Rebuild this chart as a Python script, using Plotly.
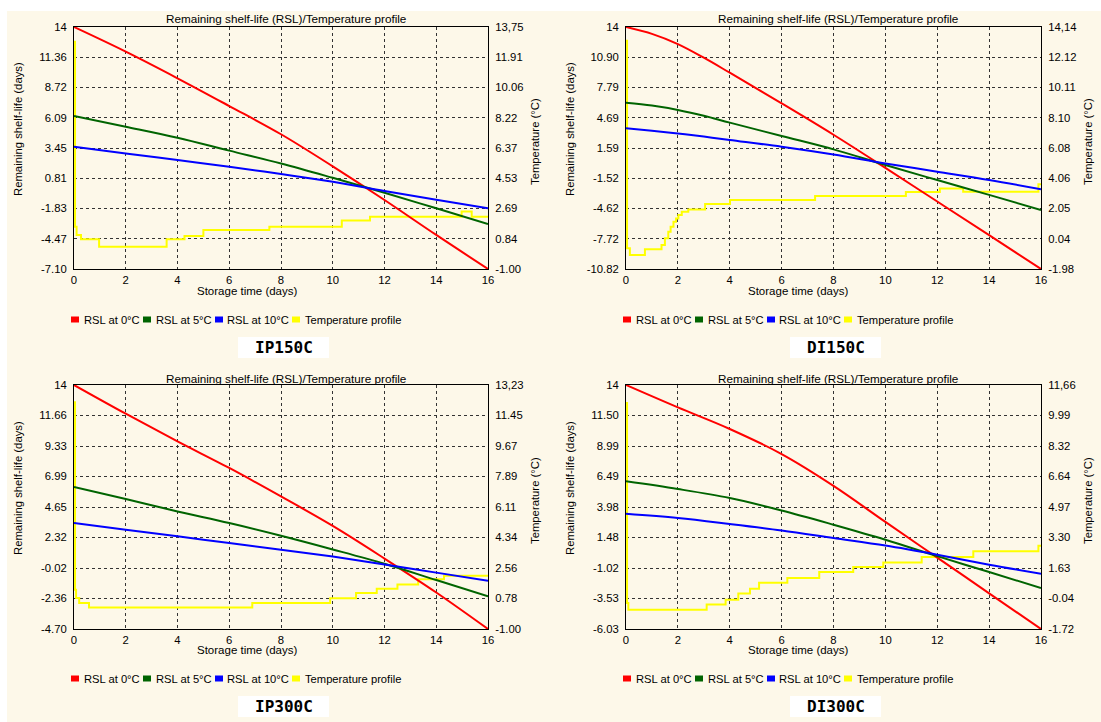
import plotly.graph_objects as go

W, H = 1101, 722
CREAM = "#FDF8E9"
FONT = "Liberation Sans, Arial, sans-serif"

# ---------------- data ----------------
x_ticks = [0, 2, 4, 6, 8, 10, 12, 14, 16]

series_names = ["RSL at 0°C", "RSL at 5°C", "RSL at 10°C", "Temperature profile"]
series_colors = ["#FF0000", "#006400", "#0000FF", "#FFFF00"]

panel_names = ["IP150C", "DI150C", "IP300C", "DI300C"]
chart_title = "Remaining shelf-life (RSL)/Temperature profile"
x_title = "Storage time (days)"
rsl_title = "Remaining shelf-life (days)"
temp_title = "Temperature (°C)"

# IP150C
ip150c_days = [0, 2, 4, 6, 8, 10, 12, 14, 16]
ip150c_rsl0 = [14, 11.85, 9.53, 7.11, 4.65, 1.85, -1.08, -4.13, -7.10]
ip150c_rsl5 = [6.24, 5.31, 4.35, 3.22, 2.10, 0.85, -0.45, -1.81, -3.17]
ip150c_rsl10 = [3.57, 2.98, 2.40, 1.82, 1.18, 0.50, -0.30, -1.07, -1.81]
ip150c_temp_t = [0, 0.04, 0.10, 0.27, 0.97, 3.58, 4.27, 5.00, 7.55, 10.35, 11.44, 14.98, 15.37, 16]
ip150c_temp = [12.85, 1.58, 1.07, 0.81, 0.36, 0.81, 1.01, 1.38, 1.58, 1.95, 2.19, 2.50, 2.19, 2.19]
ip150c_rsl_ticks = ["14", "11.36", "8.72", "6.09", "3.45", "0.81", "-1.83", "-4.47", "-7.10"]
ip150c_temp_ticks = ["13,75", "11.91", "10.06", "8.22", "6.37", "4.53", "2.69", "0.84", "-1.00"]

# DI150C
di150c_days = [0, 1, 2, 3, 4, 6, 8, 10, 12, 14, 16]
di150c_rsl0 = [14, 13.30, 12.25, 10.85, 9.31, 6.17, 2.95, -0.45, -3.90, -7.35, -10.82]
di150c_rsl5 = [6.24, 5.94, 5.49, 4.89, 4.19, 2.82, 1.45, -0.15, -1.70, -3.22, -4.77]
di150c_rsl10 = [3.61, 3.36, 3.08, 2.76, 2.41, 1.72, 0.92, 0.00, -0.84, -1.69, -2.65]
di150c_temp_t = [0, 0.04, 0.15, 0.73, 1.37, 1.50, 1.63, 1.72, 1.83, 1.93, 2.02, 2.15, 2.40,
                 3.05, 4.01, 7.29, 10.79, 12.10, 13.00, 15.90, 16]
di150c_temp = [13.23, -0.60, -1.05, -0.67, -0.38, 0.06, 0.50, 0.84, 1.17, 1.39, 1.62, 1.84, 1.99,
               2.35, 2.61, 2.88, 3.15, 3.39, 3.17, 3.66, 3.66]
di150c_rsl_ticks = ["14", "10.90", "7.79", "4.69", "1.59", "-1.52", "-4.62", "-7.72", "-10.82"]
di150c_temp_ticks = ["14,14", "12.12", "10.11", "8.10", "6.08", "4.06", "2.05", "0.04", "-1.98"]

# IP300C
ip300c_days = [0, 2, 4, 6, 8, 10, 12, 14, 16]
ip300c_rsl0 = [14, 11.80, 9.68, 7.64, 5.46, 3.20, 0.70, -1.90, -4.70]
ip300c_rsl5 = [6.18, 5.26, 4.31, 3.42, 2.45, 1.40, 0.30, -0.95, -2.20]
ip300c_rsl10 = [3.42, 2.91, 2.40, 1.89, 1.38, 0.85, 0.25, -0.38, -1.00]
ip300c_temp_t = [0, 0.04, 0.08, 0.20, 0.58, 6.89, 9.90, 10.90, 11.70, 12.50, 13.30, 14.30, 16]
ip300c_temp = [12.22, 1.29, 0.81, 0.52, 0.26, 0.52, 0.80, 1.10, 1.35, 1.60, 1.90, 2.10, 2.10]
ip300c_rsl_ticks = ["14", "11.66", "9.33", "6.99", "4.65", "2.32", "-0.02", "-2.36", "-4.70"]
ip300c_temp_ticks = ["13,23", "11.45", "9.67", "7.89", "6.11", "4.34", "2.56", "0.78", "-1.00"]

# DI300C
di300c_days = [0, 2, 4, 6, 8, 10, 12, 14, 16]
di300c_rsl0 = [14, 12.16, 10.39, 8.33, 5.72, 2.76, -0.17, -3.10, -6.03]
di300c_rsl5 = [6.09, 5.46, 4.72, 3.70, 2.53, 1.30, -0.05, -1.35, -2.67]
di300c_rsl10 = [3.43, 3.08, 2.59, 2.06, 1.44, 0.82, 0.07, -0.75, -1.49]
di300c_temp_t = [0, 0.04, 0.09, 3.11, 3.84, 4.33, 4.78, 5.13, 6.22, 7.45, 8.76, 9.92, 11.40, 13.39, 15.90, 16]
di300c_temp = [10.67, -0.29, -0.66, -0.38, -0.11, 0.22, 0.49, 0.81, 1.08, 1.41, 1.68, 1.93, 2.23, 2.54, 2.85, 2.85]
di300c_rsl_ticks = ["14", "11.50", "8.99", "6.49", "3.98", "1.48", "-1.02", "-3.53", "-6.03"]
di300c_temp_ticks = ["11,66", "9.99", "8.32", "6.64", "4.97", "3.30", "1.63", "-0.04", "-1.72"]

panels_data = [
    (ip150c_days, ip150c_rsl0, ip150c_rsl5, ip150c_rsl10, ip150c_temp_t, ip150c_temp, ip150c_rsl_ticks, ip150c_temp_ticks),
    (di150c_days, di150c_rsl0, di150c_rsl5, di150c_rsl10, di150c_temp_t, di150c_temp, di150c_rsl_ticks, di150c_temp_ticks),
    (ip300c_days, ip300c_rsl0, ip300c_rsl5, ip300c_rsl10, ip300c_temp_t, ip300c_temp, ip300c_rsl_ticks, ip300c_temp_ticks),
    (di300c_days, di300c_rsl0, di300c_rsl5, di300c_rsl10, di300c_temp_t, di300c_temp, di300c_rsl_ticks, di300c_temp_ticks),
]

# ---------------- layout (pixel geometry) ----------------
# plot area boxes: (left, right, top, bottom) in px
boxes = [(74, 488, 27, 269), (626, 1041, 27, 269), (74, 488, 385, 629), (626, 1041, 385, 629)]


def px(x):
    return x / W


def py(y):
    return 1 - y / H


def num(s):
    return float(s.replace(",", "."))


fig = go.Figure()
layout = dict(
    width=W, height=H, margin=dict(l=0, r=0, t=0, b=0, autoexpand=False),
    paper_bgcolor="white", plot_bgcolor=CREAM, showlegend=False,
    font=dict(family=FONT, size=11, color="black"),
)
shapes = [dict(type="rect", xref="paper", yref="paper", x0=px(7), x1=1, y0=0, y1=py(11),
               fillcolor=CREAM, line=dict(width=0), layer="below")]
annotations = []

tick_font = dict(family=FONT, size=11.3, color="black")
GRID = "#333333"

for i, (data, box) in enumerate(zip(panels_data, boxes)):
    days, rsl0, rsl5, rsl10, tt, temp, rsl_ticks, temp_ticks = data
    L, R, T, B = box
    n = i + 1
    xname = "xaxis" if n == 1 else f"xaxis{n}"
    xref = "x" if n == 1 else f"x{n}"
    ty = 2 * i + 1
    ry = 2 * i + 2
    tyname = "yaxis" if ty == 1 else f"yaxis{ty}"
    tyref = "y" if ty == 1 else f"y{ty}"
    ryname = f"yaxis{ry}"
    ryref = f"y{ry}"

    r_hi, r_lo = num(rsl_ticks[0]), num(rsl_ticks[-1])
    t_hi, t_lo = num(temp_ticks[0]), num(temp_ticks[-1])
    r_vals = [r_hi - k * (r_hi - r_lo) / 8 for k in range(9)]
    t_vals = [t_hi - k * (t_hi - t_lo) / 8 for k in range(9)]

    layout[xname] = dict(
        domain=[px(L), px(R)], anchor=tyref, range=[0, 16], tickvals=x_ticks,
        showgrid=True, gridcolor=GRID, griddash="dot", gridwidth=1,
        showline=True, linecolor="black", linewidth=1, mirror=True,
        zeroline=False, ticks="", tickfont=tick_font, fixedrange=True, automargin=False,
    )
    layout[tyname] = dict(
        domain=[py(B), py(T)], anchor=xref, side="right", range=[t_lo, t_hi],
        tickvals=t_vals, ticktext=temp_ticks, showgrid=False, zeroline=False,
        showline=True, linecolor="black", linewidth=1, ticks="", tickfont=tick_font,
        ticklabelstandoff=4, automargin=False, fixedrange=True,
    )
    layout[ryname] = dict(
        overlaying=tyref, anchor=xref, side="left", range=[r_lo, r_hi],
        tickvals=r_vals, ticktext=rsl_ticks, showgrid=True, gridcolor=GRID,
        griddash="dot", gridwidth=1, zeroline=False, showline=True,
        linecolor="black", linewidth=1, ticks="", tickfont=tick_font,
        ticklabelstandoff=4, automargin=False, fixedrange=True,
    )

    # temperature profile (drawn underneath)
    fig.add_trace(go.Scatter(x=tt, y=temp, xaxis=xref, yaxis=tyref, mode="lines",
                             line=dict(color=series_colors[3], width=2, shape="hv"),
                             name=series_names[3], hoverinfo="skip"))
    for vals, col, nm in zip([rsl0, rsl5, rsl10], series_colors[:3], series_names[:3]):
        fig.add_trace(go.Scatter(x=days, y=vals, xaxis=xref, yaxis=ryref, mode="lines",
                                 line=dict(color=col, width=2, shape="spline", smoothing=1.0),
                                 name=nm))

    # text elements
    dx = L - 74
    dy = 0 if T < 300 else 359
    annotations.append(dict(text=chart_title, x=px(286 + dx), y=py(19 + dy), xref="paper", yref="paper",
                            xanchor="center", yanchor="middle", showarrow=False,
                            font=dict(family=FONT, size=11.7)))
    annotations.append(dict(text=x_title, x=px(247 + dx), y=py(291 + dy), xref="paper", yref="paper",
                            xanchor="center", yanchor="middle", showarrow=False,
                            font=dict(family=FONT, size=11.5)))
    annotations.append(dict(text=rsl_title, x=px(18 + dx), y=py(129 + dy), xref="paper", yref="paper",
                            xanchor="center", yanchor="middle", showarrow=False, textangle=-90,
                            font=dict(family=FONT, size=11.3)))
    annotations.append(dict(text=temp_title, x=px(R + 47), y=py(142 + dy), xref="paper", yref="paper",
                            xanchor="center", yanchor="middle", showarrow=False, textangle=-90,
                            font=dict(family=FONT, size=11.3)))

    # legend (squares + labels)
    leg_y = 319.5 + dy
    sq_x = [71, 143, 215, 292]
    tx_x = [82, 154, 225, 303]
    for k in range(4):
        shapes.append(dict(type="rect", xref="paper", yref="paper",
                           x0=px(sq_x[k] + dx), x1=px(sq_x[k] + dx + 8),
                           y0=py(leg_y + 3), y1=py(leg_y - 3),
                           fillcolor=series_colors[k], line=dict(width=0)))
        annotations.append(dict(text=series_names[k], x=px(tx_x[k] + dx), y=py(leg_y),
                                xref="paper", yref="paper", xanchor="left", yanchor="middle",
                                showarrow=False, font=dict(family=FONT, size=11.2)))

    # panel label box
    shapes.append(dict(type="rect", xref="paper", yref="paper",
                       x0=px(238 + dx), x1=px(329 + dx), y0=py(358 + dy), y1=py(337 + dy),
                       fillcolor="white", line=dict(width=0)))
    annotations.append(dict(text="<b>" + panel_names[i] + "</b>", x=px(283.5 + dx), y=py(347.5 + dy),
                            xref="paper", yref="paper", xanchor="center", yanchor="middle",
                            showarrow=False,
                            font=dict(family="DejaVu Sans Mono, monospace", size=16, color="black")))

layout["shapes"] = shapes
layout["annotations"] = annotations
fig.update_layout(**layout)
fig.write_html("out.html", config={"displayModeBar": False},
               post_script="document.body.style.margin='0px';")
